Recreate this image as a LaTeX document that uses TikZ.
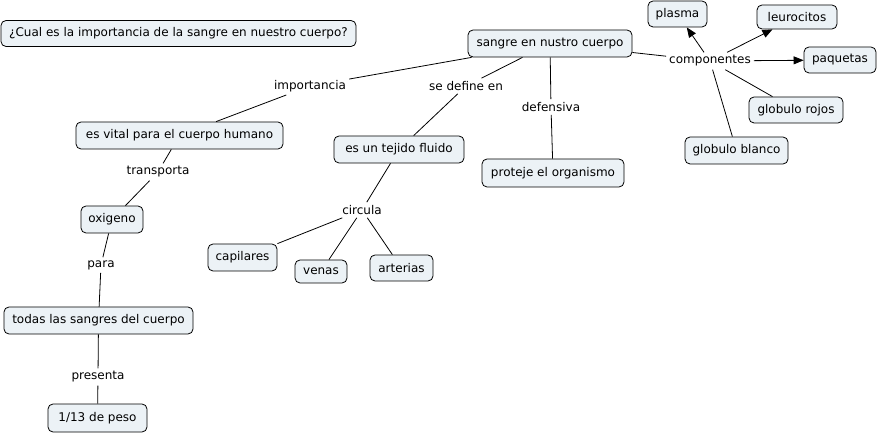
\documentclass[tikz,border=0pt]{standalone}
\usepackage{fontspec}
\setmainfont{DejaVu Sans}
\usetikzlibrary{arrows.meta}
\definecolor{cfill}{RGB}{236,242,246}
\begin{document}
\begin{tikzpicture}[x=1pt,y=-1pt,
  concept/.style={draw=black,line width=0.8pt,fill=cfill,rounded corners=5pt,inner sep=0pt,font=\fontsize{12}{14}\selectfont},
  lbl/.style={inner sep=3pt,font=\fontsize{12}{14}\selectfont},
  link/.style={draw=black,line width=0.8pt},
  arr/.style={link,-{Triangle[length=10pt,width=8pt]}}]
\useasboundingbox (0,0) rectangle (878,435);
% concepts
\node[concept,minimum width=355pt,minimum height=26pt] (q) at (178.5,33.5) {¿Cual es la importancia de la sangre en nuestro cuerpo?};
\node[concept,minimum width=164pt,minimum height=27pt] (sangre) at (550,43.5) {sangre en nustro cuerpo};
\node[concept,minimum width=207pt,minimum height=27pt] (vital) at (179.5,135.5) {es vital para el cuerpo humano};
\node[concept,minimum width=130pt,minimum height=27pt] (tejido) at (399,149.5) {es un tejido fluido};
\node[concept,minimum width=142pt,minimum height=28pt] (proteje) at (553,173) {proteje el organismo};
\node[concept,minimum width=59pt,minimum height=26pt] (plasma) at (677.5,14) {plasma};
\node[concept,minimum width=80pt,minimum height=24pt] (leuro) at (797,17) {leurocitos};
\node[concept,minimum width=72pt,minimum height=26pt] (paq) at (840,60) {paquetas};
\node[concept,minimum width=94pt,minimum height=26pt] (rojos) at (796,110) {globulo rojos};
\node[concept,minimum width=103pt,minimum height=27pt] (blanco) at (736.5,150.5) {globulo blanco};
\node[concept,minimum width=62pt,minimum height=27pt] (oxi) at (112,219.5) {oxigeno};
\node[concept,minimum width=189pt,minimum height=27pt] (todas) at (98.5,320.5) {todas las sangres del cuerpo};
\node[concept,minimum width=99pt,minimum height=28pt] (peso) at (97.5,418) {1/13 de peso};
\node[concept,minimum width=69pt,minimum height=27pt] (capi) at (242.5,257.5) {capilares};
\node[concept,minimum width=52pt,minimum height=23pt] (venas) at (321,271.5) {venas};
\node[concept,minimum width=63pt,minimum height=26pt] (art) at (401.5,268) {arterias};
% link labels
\node[lbl] (limp) at (310,86) {importancia};
\node[lbl] (ldef) at (466,86) {se define en};
\node[lbl] (ldefe) at (551,107) {defensiva};
\node[lbl] (lcomp) at (710,61) {componentes};
\node[lbl] (ltrans) at (158,172) {transporta};
\node[lbl] (lcirc) at (362,210) {circula};
\node[lbl] (lpara) at (101,265) {para};
\node[lbl] (lpres) at (98,377) {presenta};
% connectors
\draw[link] (sangre) -- (limp);
\draw[link] (limp) -- (vital);
\draw[link] (sangre) -- (ldef);
\draw[link] (ldef) -- (tejido);
\draw[link] (sangre) -- (ldefe);
\draw[link] (ldefe) -- (proteje);
\draw[link] (sangre) -- (lcomp);
\draw[arr] (lcomp) -- (plasma);
\draw[arr] (lcomp) -- (leuro);
\draw[arr] (lcomp) -- (paq);
\draw[link] (lcomp) -- (rojos);
\draw[link] (lcomp) -- (blanco);
\draw[link] (vital) -- (ltrans);
\draw[link] (ltrans) -- (oxi);
\draw[link] (oxi) -- (lpara);
\draw[link] (lpara) -- (todas);
\draw[link] (todas) -- (lpres);
\draw[link] (lpres) -- (peso);
\draw[link] (tejido) -- (lcirc);
\draw[link] (lcirc) -- (capi);
\draw[link] (lcirc) -- (venas);
\draw[link] (lcirc) -- (art);
\end{tikzpicture}
\end{document}
